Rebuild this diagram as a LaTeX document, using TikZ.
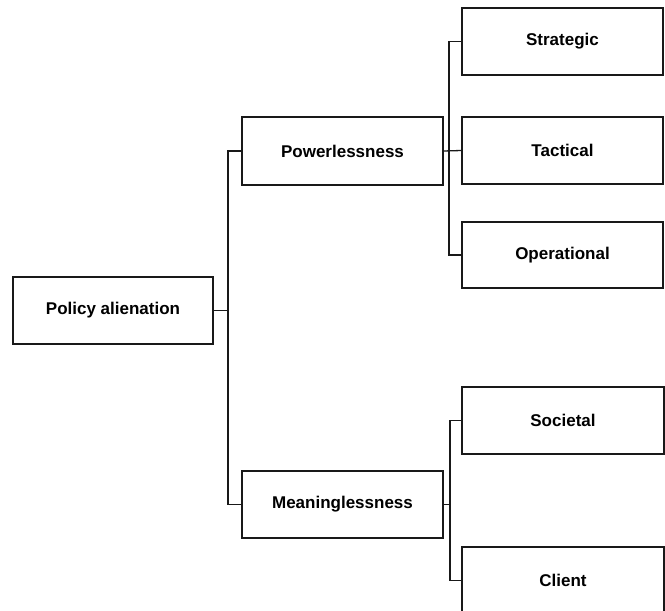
\documentclass[tikz,border=0pt]{standalone}
\usepackage{fontspec}
\setmainfont{Liberation Sans}
\begin{document}
\begin{tikzpicture}[x=1pt,y=-1pt,
  box/.style={draw=black!90, line width=1.3pt, fill=white, inner sep=0pt, font=\fontsize{17}{20}\selectfont\bfseries},
  link/.style={draw=black!90, line width=1.3pt}]
\clip (0,0) rectangle (665,611);
\fill[white] (0,0) rectangle (665,611);
\node[box, minimum width=200pt, minimum height=67pt] (pa) at (113,310.5) {Policy alienation};
\node[box, minimum width=201pt, minimum height=68pt] (pw) at (342.5,151) {Powerlessness};
\node[box, minimum width=201pt, minimum height=67pt] (mn) at (342.5,504.5) {Meaninglessness};
\node[box, minimum width=201pt, minimum height=67pt] (st) at (562.5,41.5) {Strategic};
\node[box, minimum width=201pt, minimum height=67pt] (ta) at (562.5,150.5) {Tactical};
\node[box, minimum width=201pt, minimum height=66pt] (op) at (562.5,255) {Operational};
\node[box, minimum width=202pt, minimum height=67pt] (so) at (563,420.5) {Societal};
\node[box, minimum width=202pt, minimum height=67pt] (cl) at (563,580.5) {Client};
\coordinate (t1) at (228,310.5);
\coordinate (t2) at (449,151);
\coordinate (t3) at (450,504.5);
\draw[link] (pa.east) -- (t1);
\draw[link] (pw.west) -| (t1);
\draw[link] (mn.west) -| (t1);
\draw[link] (pw.east) -- (ta.west);
\draw[link] (st.west) -| (t2);
\draw[link] (op.west) -| (t2);
\draw[link] (mn.east) -- (t3);
\draw[link] (so.west) -| (t3);
\draw[link] (cl.west) -| (t3);
\end{tikzpicture}
\end{document}
